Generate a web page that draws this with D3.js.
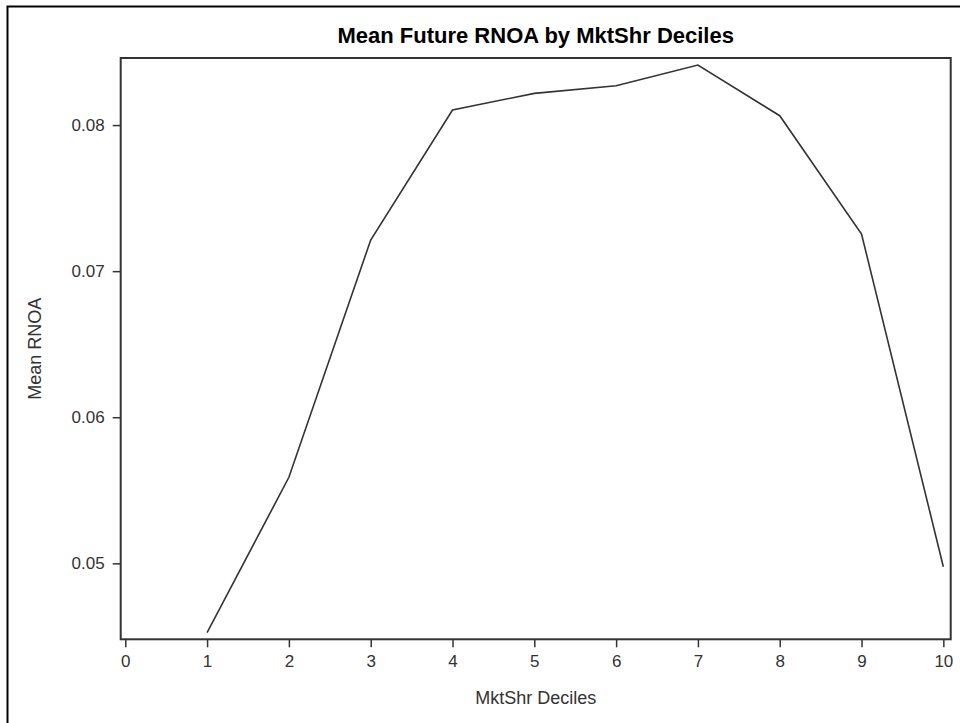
<!DOCTYPE html>
<html><head><meta charset="utf-8">
<script src="https://cdn.jsdelivr.net/npm/d3@7"></script>
<style>body{margin:0;background:#fff}svg{display:block}text{font-family:"Liberation Sans",Arial,sans-serif}</style>
</head><body>
<script>
const deciles = [1,2,3,4,5,6,7,8,9,10];
const meanRNOA = [0.04525,0.05589,0.07213,0.08103,0.08217,0.08269,0.08411,0.08064,0.07254,0.04977];
const xTicks = [0,1,2,3,4,5,6,7,8,9,10];
const yTicks = [0.05,0.06,0.07,0.08];
const title = "Mean Future RNOA by MktShr Deciles";
const xLabel = "MktShr Deciles";
const yLabel = "Mean RNOA";

const W=960,H=723;
const svg=d3.select("body").append("svg").attr("width",W).attr("height",H);
svg.append("rect").attr("x",7.5).attr("y",6.5).attr("width",W).attr("height",H).attr("fill","none").attr("stroke","#000").attr("stroke-width",2);

const L=120.7,R=950.7,T=58,B=639.3;
const x=d3.scaleLinear().domain([-0.056,10.09]).range([L,R]);
const y=d3.scaleLinear().domain([0.0448,0.08459]).range([B,T]);

svg.append("rect").attr("x",L).attr("y",T).attr("width",R-L).attr("height",B-T).attr("fill","none").attr("stroke","#333").attr("stroke-width",2);

const xa=svg.append("g").attr("transform",`translate(0,${B})`).call(d3.axisBottom(x).tickValues(xTicks).tickFormat(d3.format("d")).tickSize(8).tickPadding(8));
const ya=svg.append("g").attr("transform",`translate(${L},0)`).call(d3.axisLeft(y).tickValues(yTicks).tickFormat(d3.format(".2f")).tickSize(8).tickPadding(8));
[xa,ya].forEach(a=>{a.select(".domain").remove();a.selectAll("line").attr("stroke","#333").attr("stroke-width",1.5);a.selectAll("text").attr("fill","#333").style("font-size","17px").style("font-family","'Liberation Sans',Arial,sans-serif");});

svg.append("path").datum(deciles.map((d,i)=>[d,meanRNOA[i]]))
  .attr("d",d3.line().x(d=>x(d[0])).y(d=>y(d[1])))
  .attr("fill","none").attr("stroke","#333").attr("stroke-width",1.6);

svg.append("text").attr("x",(L+R)/2).attr("y",43).attr("text-anchor","middle").attr("font-weight","bold").style("font-size","22px").attr("fill","#000").text(title);
svg.append("text").attr("x",(L+R)/2).attr("y",704).attr("text-anchor","middle").style("font-size","18px").attr("fill","#333").text(xLabel);
svg.append("text").attr("transform",`translate(41,${(T+B)/2}) rotate(-90)`).attr("text-anchor","middle").style("font-size","18px").attr("fill","#333").text(yLabel);
</script>
</body></html>
